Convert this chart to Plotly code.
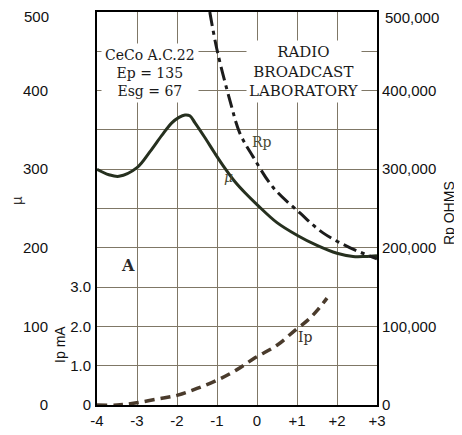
import plotly.graph_objects as go

# Grid bias (volts) axis
x_ticks = [-4, -3, -2, -1, 0, 1, 2, 3]
x_ticktext = ["-4", "-3", "-2", "-1", "0", "+1", "+2", "+3"]

# Amplification factor (mu) curve
mu_x = [-4.0, -3.7, -3.45, -3.0, -2.68, -2.38, -2.13, -1.95, -1.8, -1.68, -1.55, -1.3, -1.05, -0.8, -0.55, -0.3, 0.0, 0.5, 1.0, 1.5, 2.0, 2.4, 2.7, 3.0]
mu_y = [300, 293, 291, 302, 322, 343, 359, 366, 369, 368, 359, 340, 320, 301, 284, 270, 255, 232, 216, 203, 193, 189, 189, 190]

# Plate resistance (ohms)
rp_x = [-1.18, -1.0, -0.68, -0.43, -0.1, 0.4, 1.08, 1.65, 2.33, 3.0]
rp_y = [500000, 452000, 388000, 346000, 316000, 277000, 244000, 219000, 200000, 186000]

# Plate current (mA)
ip_x = [-4.0, -3.5, -3.05, -2.5, -1.98, -1.5, -0.98, -0.5, -0.05, 0.5, 0.95, 1.27, 1.5, 1.75]
ip_y = [0.0, 0.0, 0.05, 0.15, 0.25, 0.42, 0.64, 0.9, 1.2, 1.52, 1.9, 2.16, 2.4, 2.72]

mu_ticks = [0, 100, 200, 300, 400]
mu_top = 500
ip_ticks = [0, 1, 2, 3]
ip_ticktext = ["0", "1.0", "2.0", "3.0"]
rp_ticks = [0, 100000, 200000, 300000, 400000]
rp_ticktext = ["0", "100,000", "200,000", "300,000", "400,000"]
rp_top = 500000
rp_top_text = "500,000"

GRID = "#7f7766"
SANS = "Liberation Sans"
SERIF = "DejaVu Serif"
TICKFONT = dict(family=SANS, size=15, color="#111")

fig = go.Figure()
fig.add_trace(go.Scatter(x=mu_x, y=mu_y, mode="lines", line=dict(color="#26301f", width=3, shape="spline"),
                         yaxis="y", showlegend=False))
fig.add_trace(go.Scatter(x=rp_x, y=rp_y, mode="lines",
                         line=dict(color="#1c1c1c", width=3, dash="14px,5px,4px,5px", shape="spline"),
                         yaxis="y2", showlegend=False))
fig.add_trace(go.Scatter(x=ip_x, y=ip_y, mode="lines",
                         line=dict(color="#4a3b2c", width=3.5, dash="10px,6px", shape="spline"),
                         yaxis="y3", showlegend=False))

fig.update_layout(
    width=462, height=435,
    margin=dict(l=89, r=93, t=4, b=38),
    paper_bgcolor="white", plot_bgcolor="white",
    xaxis=dict(range=[-4, 3], tickvals=x_ticks, ticktext=x_ticktext, showgrid=True, gridcolor=GRID, gridwidth=1,
               showline=True, linecolor="black", linewidth=2, mirror=True, zeroline=False, ticks="",
               tickfont=TICKFONT, ticklabelstandoff=1, automargin=False),
    yaxis=dict(range=[0, 500], tickvals=mu_ticks, showgrid=True, gridcolor=GRID, gridwidth=1,
               minor=dict(dtick=50, showgrid=True, gridcolor=GRID, gridwidth=1),
               showline=True, linecolor="black", linewidth=2, mirror=True, zeroline=False, ticks="",
               tickfont=TICKFONT, ticklabelstandoff=44, automargin=False),
    yaxis2=dict(range=[0, 500000], overlaying="y", side="right", tickvals=rp_ticks, ticktext=rp_ticktext,
                showgrid=False, zeroline=False, ticks="", showline=False, automargin=False,
                tickfont=TICKFONT, ticklabelstandoff=4),
    yaxis3=dict(range=[0, 10], overlaying="y", side="left", tickvals=ip_ticks, ticktext=ip_ticktext,
                showgrid=False, zeroline=False, ticks="", showline=False, automargin=False,
                tickfont=TICKFONT, ticklabelstandoff=5),
)

anns = [
    # top tick labels, nudged down slightly so they stay inside the page
    dict(x=-0.163, y=mu_top, xref="paper", yref="y", text=str(mu_top), xanchor="right", yanchor="middle",
         yshift=-4, font=TICKFONT, showarrow=False),
    dict(x=1.022, y=rp_top, xref="paper", yref="y2", text=rp_top_text, xanchor="left", yanchor="middle",
         yshift=-5, font=TICKFONT, showarrow=False),
    dict(x=-2.675, y=422, xref="x", yref="y", text="CeCo A.C.22<br>Ep = 135<br>Esg = 67",
         font=dict(family=SERIF, size=14, color="#1a1a1a"), bgcolor="white", borderpad=3, showarrow=False),
    dict(x=1.175, y=424, xref="x", yref="y", text="RADIO<br>BROADCAST<br>LABORATORY",
         font=dict(family=SERIF, size=15, color="#1a1a1a"), bgcolor="white", borderpad=2, showarrow=False),
    dict(x=0.125, y=335, xref="x", yref="y", text="Rp", font=dict(family=SERIF, size=14, color="#4a4a32"),
         showarrow=False),
    dict(x=-0.72, y=290, xref="x", yref="y", text="<i>µ</i>", font=dict(family=SERIF, size=14, color="#4a4a32"),
         showarrow=False),
    dict(x=1.2, y=86, xref="x", yref="y", text="Ip", font=dict(family=SERIF, size=14, color="#3a3028"),
         showarrow=False),
    dict(x=-3.225, y=178, xref="x", yref="y", text="<b>A</b>", font=dict(family=SERIF, size=16, color="#2a2a2a"),
         showarrow=False),
    dict(x=-0.289, y=0.519, xref="paper", yref="paper", text="µ", textangle=-90, xanchor="center", yanchor="middle",
         font=dict(family=SANS, size=15, color="#333"), showarrow=False),
    dict(x=-0.132, y=0.153, xref="paper", yref="paper", text="Ip mA", textangle=-90, xanchor="center",
         yanchor="middle", font=dict(family=SANS, size=14, color="#111"), showarrow=False),
    dict(x=1.258, y=0.489, xref="paper", yref="paper", text="Rp OHMS", textangle=-90, xanchor="center",
         yanchor="middle", font=dict(family=SANS, size=14, color="#111"), showarrow=False),
]
fig.update_layout(annotations=anns)

fig.write_html("out.html")
